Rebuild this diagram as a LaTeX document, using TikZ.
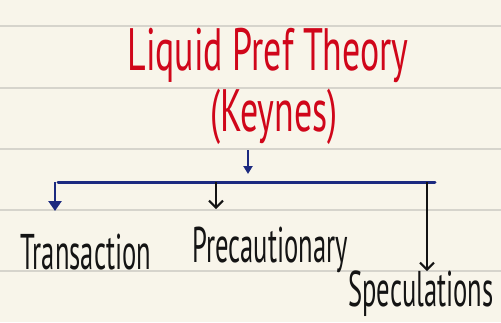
\documentclass[tikz,border=0pt]{standalone}
\usepackage{fontspec}
\setmainfont{PT Sans}
\usetikzlibrary{arrows.meta,positioning}
\definecolor{paper}{HTML}{F8F5EA}
\definecolor{ruleline}{HTML}{D6D4CC}
\definecolor{inkred}{HTML}{D0061A}
\definecolor{inkblue}{HTML}{1C2A80}
\definecolor{inkblack}{HTML}{141414}

\begin{document}
\begin{tikzpicture}[
  x=1pt, y=-1pt,
  rule/.style={draw=ruleline, line width=1.6pt},
  title/.style={text=inkred, font=\fontsize{46}{46}\selectfont, inner sep=0pt,
    transform shape, xscale=0.78, yscale=1.3},
  hand/.style={text=inkblack, font=\fontsize{38}{38}\selectfont, inner sep=0pt,
    transform shape, xscale=0.7, yscale=1.32},
  bluearr/.style={draw=inkblue, line width=2.6pt, -{Triangle[length=10pt,width=13pt]}},
  blackarr/.style={draw=inkblack, line width=2pt, -{Straight Barb[length=7pt,width=14pt]}},
  bar/.style={draw=inkblue, line width=3pt, line cap=round}
]
\fill[paper] (0,0) rectangle (501,322);
\useasboundingbox (0,0) rectangle (501,322);
\foreach \y in {26,88,149,210,271} \draw[rule] (0,\y) -- (501,\y);

\node[title] (theory) at (268,55) {Liquid Pref Theory};
\node[title] (keynes) at (274,117) {(Keynes)};

\node[hand] (trans) at (86,252) {Transaction};
\node[hand] (precau) at (270,250) {Precautionary};
\node[hand] (specul) at (421,294) {Speculations};

\coordinate (barL) at (58,182);
\coordinate (barR) at (435,182);
\coordinate (feed) at (248,150);
\coordinate (split) at (248,174);
\draw[bar] (barL) -- (barR);
\draw[draw=inkblue, line width=2.2pt, -{Triangle[length=8pt,width=9pt]}] (feed) -- (split);

\coordinate (tTop) at (55,182);
\coordinate (tEnd) at (55,211);
\coordinate (pTop) at (216,182);
\coordinate (pEnd) at (216,209);
\coordinate (sTop) at (427,182);
\coordinate (sEnd) at (427,271);
\draw[bluearr] (tTop) -- (tEnd);
\draw[blackarr] (pTop) -- (pEnd);
\draw[blackarr] (sTop) -- (sEnd);
\end{tikzpicture}
\end{document}
